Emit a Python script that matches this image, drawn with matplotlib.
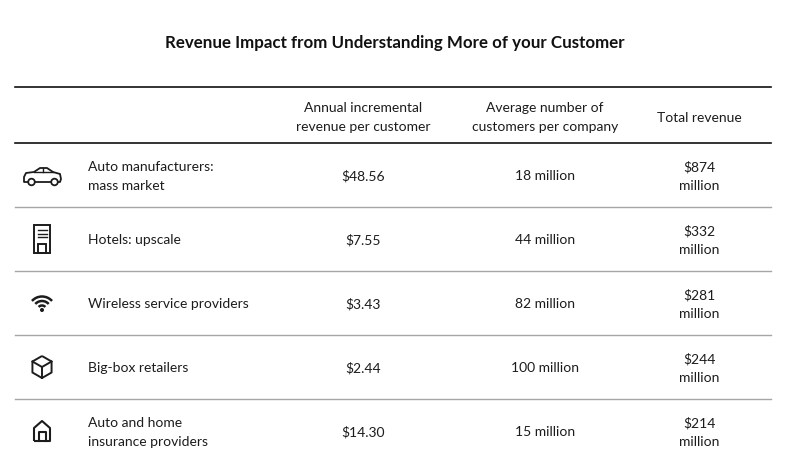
import matplotlib
matplotlib.use("Agg")
import matplotlib.pyplot as plt
from matplotlib.patches import Circle, Rectangle, Arc, PathPatch
from matplotlib.path import Path

# Dados da tabela
TITLE = "Revenue Impact from Understanding More of your Customer"
HEADERS = [
    "Annual incremental\nrevenue per customer",
    "Average number of\ncustomers per company",
    "Total revenue",
]
CATEGORIES = [
    "Auto manufacturers:\nmass market",
    "Hotels: upscale",
    "Wireless service providers",
    "Big-box retailers",
    "Auto and home\ninsurance providers",
]
REVENUE_PER_CUSTOMER = ["$48.56", "$7.55", "$3.43", "$2.44", "$14.30"]
CUSTOMERS = ["18 million", "44 million", "82 million", "100 million", "15 million"]
TOTAL_REVENUE = ["$874\nmillion", "$332\nmillion", "$281\nmillion", "$244\nmillion", "$214\nmillion"]

W, H = 787, 472
TEXT = "#1c1c1c"
FONT = "Lato"
FS = 10
LS = 1.62

X0, X1 = 15, 771
TOP_Y = 87
HEAD_Y = 143
ROW_H = 64
COL_X = [363, 545, 699]
LABEL_X = 88
ICON_X = 42
DY = 1.5  # deslocamento vertical do texto


def icon_car(ax, cx, cy):
    verts = [
        (cx - 14, cy + 7), (cx - 18, cy + 7), (cx - 18, cy + 2),
        (cx - 16, cy - 2), (cx - 8, cy - 3), (cx - 2, cy - 7),
        (cx + 5, cy - 7), (cx + 11, cy - 3), (cx + 18, cy - 1),
        (cx + 19, cy + 4), (cx + 18, cy + 7), (cx + 16, cy + 7),
    ]
    ax.add_patch(PathPatch(Path(verts), fill=False, lw=1.3, ec=TEXT,
                           joinstyle="round"))
    ax.plot([cx - 7, cx + 9], [cy + 7, cy + 7], color=TEXT, lw=1.3)
    ax.plot([cx - 8, cx + 11], [cy - 3, cy - 3], color=TEXT, lw=1.0)
    ax.plot([cx + 1, cx + 1], [cy - 7, cy - 3], color=TEXT, lw=1.0)
    for wx in (cx - 10.5, cx + 12.5):
        ax.add_patch(Circle((wx, cy + 7), 3.3, fill=True, fc="white",
                            ec=TEXT, lw=1.3))


def icon_building(ax, cx, cy):
    ax.add_patch(Rectangle((cx - 8, cy - 14), 16, 28, fill=False, ec=TEXT, lw=1.4))
    for dy in (-9, -5.5, -2):
        ax.plot([cx - 4.5, cx + 4.5], [cy + dy, cy + dy], color=TEXT, lw=1.0)
    ax.add_patch(Rectangle((cx - 4, cy + 5), 8, 9, fill=False, ec=TEXT, lw=1.4))


def icon_wifi(ax, cx, cy):
    base = cy + 7
    for r in (4.5, 9, 13.5):
        ax.add_patch(Arc((cx, base), 2 * r, 2 * r, theta1=222, theta2=318,
                         ec=TEXT, lw=1.8))
    ax.add_patch(Circle((cx, base), 1.3, color=TEXT))


def icon_box(ax, cx, cy):
    r = 11
    top = (cx, cy - r)
    ul = (cx - r * 0.87, cy - r * 0.5)
    ll = (cx - r * 0.87, cy + r * 0.5)
    bot = (cx, cy + r)
    lr = (cx + r * 0.87, cy + r * 0.5)
    ur = (cx + r * 0.87, cy - r * 0.5)
    mid = (cx, cy)
    hexa = [top, ul, ll, bot, lr, ur, top]
    ax.add_patch(PathPatch(Path(hexa), fill=False, ec=TEXT, lw=1.4,
                           joinstyle="round"))
    ax.plot([ul[0], mid[0], ur[0]], [ul[1], mid[1], ur[1]], color=TEXT, lw=1.4)
    ax.plot([mid[0], bot[0]], [mid[1], bot[1]], color=TEXT, lw=1.4)


def icon_house(ax, cx, cy):
    verts = [
        (cx - 8, cy + 10), (cx - 8, cy - 3), (cx, cy - 10),
        (cx + 8, cy - 3), (cx + 8, cy + 10), (cx - 8, cy + 10),
    ]
    ax.add_patch(PathPatch(Path(verts), fill=False, ec=TEXT, lw=1.5,
                           joinstyle="round"))
    ax.plot([cx - 3.5, cx - 3.5, cx + 3.5, cx + 3.5],
            [cy + 10, cy + 1, cy + 1, cy + 10], color=TEXT, lw=1.5)


ICONS = [icon_car, icon_building, icon_wifi, icon_box, icon_house]

fig = plt.figure(figsize=(W / 100, H / 100), dpi=100)
ax = fig.add_axes([0, 0, 1, 1])
ax.set_xlim(0, W)
ax.set_ylim(H, 0)
ax.axis("off")

ax.text(W / 2 + 1, 43, TITLE, ha="center", va="center", fontsize=12.2,
        fontweight="bold", color="#111111", family=FONT)

ax.plot([X0, X1], [TOP_Y, TOP_Y], color="#111111", lw=1.2)
ax.plot([X0, X1], [HEAD_Y, HEAD_Y], color="#111111", lw=1.2)

for x, h in zip(COL_X, HEADERS):
    ax.text(x, 116 + DY, h, ha="center", va="center", fontsize=FS, color=TEXT,
            family=FONT, linespacing=LS)

for i, cat in enumerate(CATEGORIES):
    cy = HEAD_Y + ROW_H * i + ROW_H / 2
    if i > 0:
        y = HEAD_Y + ROW_H * i
        ax.plot([X0, X1], [y, y], color="#a6a6a6", lw=1.0)
    ICONS[i](ax, ICON_X, cy)
    ax.text(LABEL_X, cy + DY, cat, ha="left", va="center", fontsize=FS,
            color=TEXT, family=FONT, linespacing=LS)
    ax.text(COL_X[0], cy + DY, REVENUE_PER_CUSTOMER[i], ha="center", va="center",
            fontsize=FS, color=TEXT, family=FONT)
    ax.text(COL_X[1], cy + DY, CUSTOMERS[i], ha="center", va="center",
            fontsize=FS, color=TEXT, family=FONT)
    ax.text(COL_X[2], cy + DY, TOTAL_REVENUE[i], ha="center", va="center",
            fontsize=FS, color=TEXT, family=FONT, linespacing=LS)

fig.savefig("out.png", dpi=100)
